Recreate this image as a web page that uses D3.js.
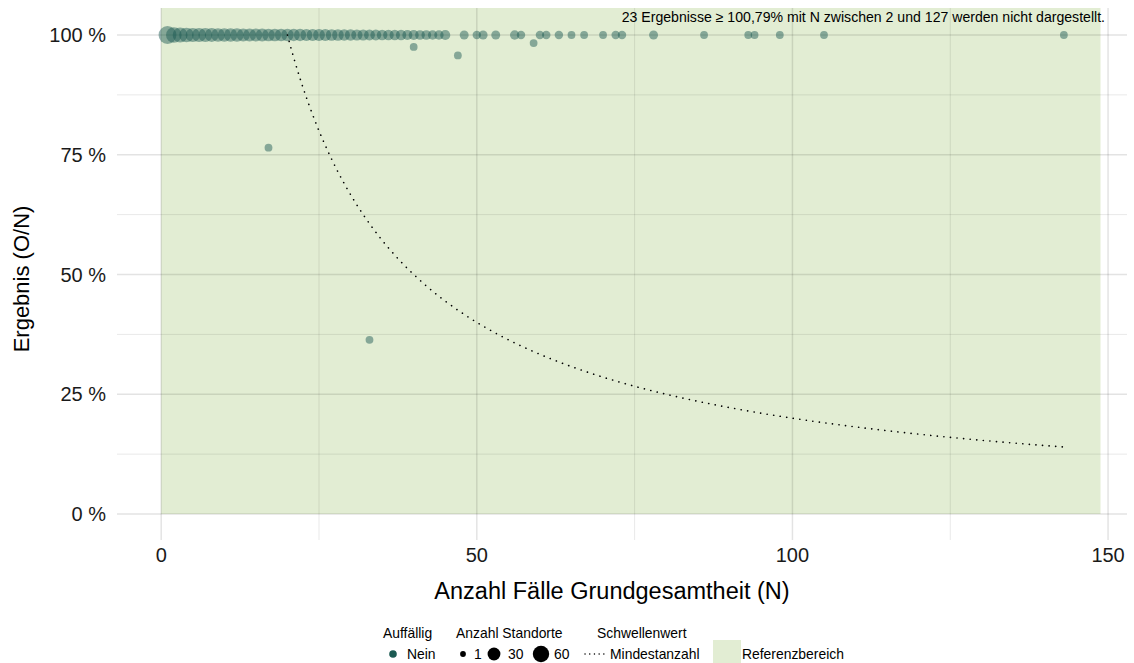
<!DOCTYPE html>
<html lang="de">
<head>
  <meta charset="UTF-8">
  <title>Ergebnis (O/N) nach Anzahl Fälle</title>
  <script src="https://d3js.org/d3.v7.min.js"></script>
  <style>
    body { margin: 0; background: #fff; }
    text { font-family: "Liberation Sans", Arial, sans-serif; }
  </style>
</head>
<body>
<div id="chart"></div>

<script>
  // Results at 100 %: number of cases N and number of sites with that N
  const fullN = [1, 2, 3, 4, 5, 6, 7, 8, 9, 10, 11, 12, 13, 14, 15, 16, 17, 18, 19, 20,
    21, 22, 23, 24, 25, 26, 27, 28, 29, 30, 31, 32, 33, 34, 35, 36, 37, 38, 39, 40,
    41, 42, 43, 44, 45, 48, 50, 51, 53, 56, 57, 60, 61, 63, 65, 67, 70, 72, 73, 78,
    86, 93, 94, 98, 105, 143];
  const fullSites = [55, 36, 30, 28, 26, 25, 24, 23, 22, 21, 20, 20, 19, 19, 18, 18, 17, 17, 16, 16,
    15, 15, 14, 14, 13, 13, 12, 12, 11, 11, 10, 10, 9, 9, 8, 8, 7, 7, 6, 6,
    5, 5, 4, 4, 6, 3, 2, 3, 3, 4, 2, 2, 2, 2, 1, 1, 1, 2, 2, 3,
    1, 1, 1, 1, 1, 1];

  // Results below 100 %: N, observed O, sites
  const lowN = [17, 33, 40, 47, 59];
  const lowO = [13, 12, 39, 45, 58];
  const lowSites = [1, 1, 1, 1, 1];

  // Threshold curve (Mindestanzahl): 20 / N between N = 20 and N = 143
  const minCount = 20;
  const curveStart = 20, curveEnd = 143;

  const refMaxN = 148.8;
  const xTicks = [0, 50, 100, 150];
  const xMinor = [25, 75, 125];
  const yTicks = [0, 0.25, 0.5, 0.75, 1];
  const yMinor = [0.125, 0.375, 0.625, 0.875];
  const sizeBreaks = [1, 30, 60];
  const note = "23 Ergebnisse \u2265 100,79% mit N zwischen 2 und 127 werden nicht dargestellt.";

  const width = 1134, height = 663;
  const panel = { left: 117, right: 1127, top: 8, bottom: 540 };

  const points = fullN.map((n, i) => ({ n: n, rate: 1, sites: fullSites[i] }))
    .concat(lowN.map((n, i) => ({ n: n, rate: lowO[i] / n, sites: lowSites[i] })));

  const x = d3.scaleLinear().domain([-7, 153]).range([panel.left, panel.right]);
  const y = d3.scaleLinear().domain([0, 1]).range([514, 35]);
  const r = d3.scaleSqrt().domain([1, 60]).range([3.9, 9.2]);

  const dotColor = "#1b5a52";
  const refColor = "#e2edd3";

  const svg = d3.select("#chart").append("svg")
    .attr("width", width)
    .attr("height", height);

  // reference area
  svg.append("rect")
    .attr("x", x(0))
    .attr("y", panel.top)
    .attr("width", x(refMaxN) - x(0))
    .attr("height", y(0) - panel.top)
    .attr("fill", refColor);

  // grid
  const grid = svg.append("g");
  grid.selectAll(".ymin").data(yMinor).enter().append("line")
    .attr("x1", panel.left).attr("x2", panel.right)
    .attr("y1", d => y(d)).attr("y2", d => y(d))
    .attr("stroke", "rgba(0,0,0,0.09)").attr("stroke-width", 1);
  grid.selectAll(".xmin").data(xMinor).enter().append("line")
    .attr("y1", panel.top).attr("y2", panel.bottom)
    .attr("x1", d => x(d)).attr("x2", d => x(d))
    .attr("stroke", "rgba(0,0,0,0.09)").attr("stroke-width", 1);
  grid.selectAll(".ymaj").data(yTicks).enter().append("line")
    .attr("x1", panel.left).attr("x2", panel.right)
    .attr("y1", d => y(d)).attr("y2", d => y(d))
    .attr("stroke", "rgba(0,0,0,0.11)").attr("stroke-width", 1.5);
  grid.selectAll(".xmaj").data(xTicks).enter().append("line")
    .attr("y1", panel.top).attr("y2", panel.bottom)
    .attr("x1", d => x(d)).attr("x2", d => x(d))
    .attr("stroke", "rgba(0,0,0,0.11)").attr("stroke-width", 1.5);

  // axis labels
  svg.append("g").selectAll("text").data(yTicks).enter().append("text")
    .attr("x", 106)
    .attr("y", d => y(d))
    .attr("dy", "0.36em")
    .attr("text-anchor", "end")
    .attr("font-size", 20)
    .attr("fill", "#1a1a1a")
    .text(d => Math.round(d * 100) + " %");

  svg.append("g").selectAll("text").data(xTicks).enter().append("text")
    .attr("x", d => x(d))
    .attr("y", 562)
    .attr("text-anchor", "middle")
    .attr("font-size", 20)
    .attr("fill", "#1a1a1a")
    .text(d => d);

  svg.append("text")
    .attr("x", 612)
    .attr("y", 599)
    .attr("text-anchor", "middle")
    .attr("font-size", 23.5)
    .attr("fill", "#000")
    .text("Anzahl F\u00e4lle Grundgesamtheit (N)");

  svg.append("text")
    .attr("transform", "translate(29,279) rotate(-90)")
    .attr("text-anchor", "middle")
    .attr("font-size", 22)
    .attr("fill", "#000")
    .text("Ergebnis (O/N)");

  // points
  svg.append("g").selectAll("circle").data(points).enter().append("circle")
    .attr("cx", d => x(d.n))
    .attr("cy", d => y(d.rate))
    .attr("r", d => r(d.sites))
    .attr("fill", dotColor)
    .attr("fill-opacity", 0.47);

  // threshold curve
  const curveN = d3.range(curveStart, curveEnd + 0.01, 0.5);
  svg.append("path")
    .datum(curveN)
    .attr("d", d3.line().x(n => x(n)).y(n => y(minCount / n)))
    .attr("fill", "none")
    .attr("stroke", "#000")
    .attr("stroke-width", 1.6)
    .attr("stroke-linecap", "round")
    .attr("stroke-dasharray", "0.1,6.5");

  // note
  svg.append("text")
    .attr("x", 1105)
    .attr("y", 22)
    .attr("text-anchor", "end")
    .attr("font-size", 14.1)
    .attr("fill", "#000")
    .text(note);

  // legend
  const leg = svg.append("g").attr("font-size", 13.9).attr("fill", "#000");
  const titleY = 638, itemY = 654;

  leg.append("text").attr("x", 383).attr("y", titleY).text("Auff\u00e4llig");
  leg.append("circle").attr("cx", 393).attr("cy", itemY).attr("r", 3.8).attr("fill", dotColor);
  leg.append("text").attr("x", 407).attr("y", itemY).attr("dy", "0.36em").text("Nein");

  leg.append("text").attr("x", 456).attr("y", titleY).text("Anzahl Standorte");
  const sizeX = [463, 494, 541];
  const sizeTextX = [474, 508, 554];
  sizeBreaks.forEach((b, i) => {
    leg.append("circle").attr("cx", sizeX[i]).attr("cy", itemY).attr("r", r(b) - 1).attr("fill", "#000");
    leg.append("text").attr("x", sizeTextX[i]).attr("y", itemY).attr("dy", "0.36em").text(b);
  });

  leg.append("text").attr("x", 597).attr("y", titleY).text("Schwellenwert");
  leg.append("line")
    .attr("x1", 585).attr("x2", 608)
    .attr("y1", itemY).attr("y2", itemY)
    .attr("stroke", "#000").attr("stroke-width", 1.4)
    .attr("stroke-linecap", "round")
    .attr("stroke-dasharray", "0.1,4.6");
  leg.append("text").attr("x", 610).attr("y", itemY).attr("dy", "0.36em").text("Mindestanzahl");

  leg.append("rect").attr("x", 713).attr("y", 640).attr("width", 28).attr("height", 23).attr("fill", refColor);
  leg.append("text").attr("x", 742).attr("y", itemY).attr("dy", "0.36em").text("Referenzbereich");
</script>
</body>
</html>
